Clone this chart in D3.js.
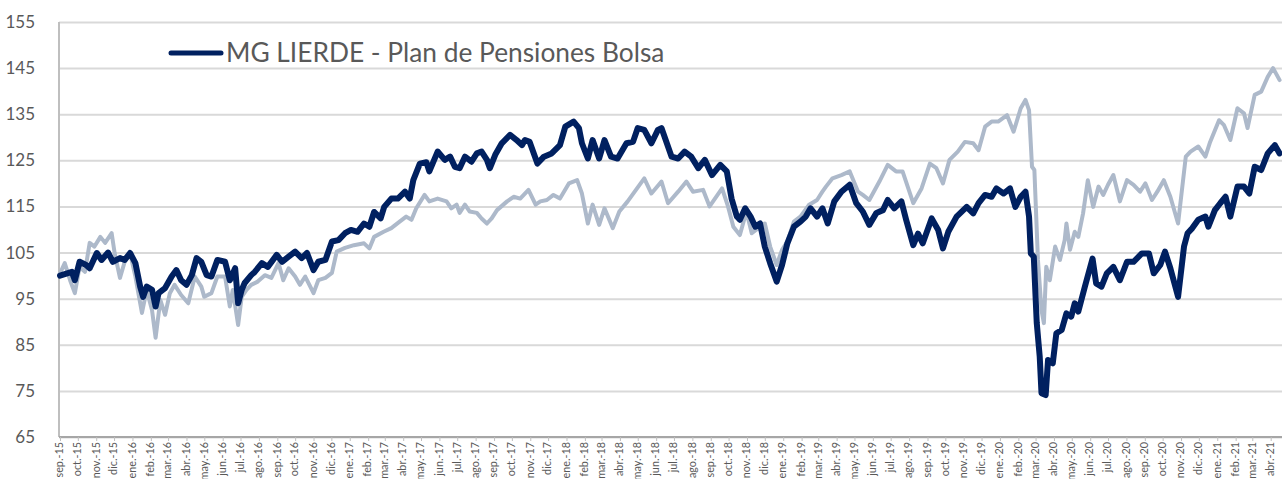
<!DOCTYPE html>
<html>
<head>
<meta charset="utf-8">
<script src="https://cdn.jsdelivr.net/npm/d3@7"></script>
<style>
    body { margin: 0; background: #fff; }
    svg { display: block; font-family: Lato, 'Open Sans', sans-serif; }
</style>
</head>
<body>
<div id="content"></div>
<script>
'use strict';

var yTicks = [65, 75, 85, 95, 105, 115, 125, 135, 145, 155]
var monthAbbr = ['ene.', 'feb.', 'mar.', 'abr.', 'may.', 'jun.', 'jul.', 'ago.', 'sep.', 'oct.', 'nov.', 'dic.']
var axisStart = '2015-09-01'
var axisEnd = '2021-04-01'
var legendLabel = 'MG LIERDE - Plan de Pensiones Bolsa'

// MG LIERDE plan (dark line)
var fundSeries = [
    ['2015-09-01', 100], ['2015-09-21', 100.8], ['2015-09-26', 99.0], ['2015-10-04', 103], ['2015-10-15', 102.3],
    ['2015-10-21', 101.6], ['2015-11-02', 104.9], ['2015-11-10', 103.4], ['2015-11-21', 105], ['2015-11-29', 103],
    ['2015-12-11', 103.8], ['2015-12-19', 103.4], ['2015-12-28', 104.9], ['2016-01-06', 102.7], ['2016-01-14', 97.6],
    ['2016-01-19', 95.4], ['2016-01-25', 97.6], ['2016-02-03', 96.9], ['2016-02-09', 93.3], ['2016-02-14', 96.2],
    ['2016-02-25', 97.3], ['2016-03-07', 99.8], ['2016-03-15', 101.2], ['2016-03-23', 99], ['2016-04-01', 98],
    ['2016-04-10', 100.1], ['2016-04-18', 103.8], ['2016-04-26', 103], ['2016-05-05', 100.1], ['2016-05-13', 99.8],
    ['2016-05-23', 103.4], ['2016-06-05', 103], ['2016-06-13', 99], ['2016-06-22', 101.6], ['2016-06-27', 94],
    ['2016-07-03', 96.9], ['2016-07-08', 98.4], ['2016-07-19', 100.1], ['2016-07-25', 100.8], ['2016-08-06', 102.7],
    ['2016-08-16', 101.9], ['2016-08-31', 104.5], ['2016-09-09', 103], ['2016-09-20', 104.1], ['2016-10-01', 105.2],
    ['2016-10-12', 103.8], ['2016-10-21', 104.9], ['2016-11-01', 101.2], ['2016-11-09', 103], ['2016-11-21', 103.4],
    ['2016-12-02', 107.4], ['2016-12-13', 107.7], ['2016-12-24', 109.2], ['2017-01-03', 109.9], ['2017-01-14', 109.5],
    ['2017-01-25', 111.3], ['2017-02-03', 110.6], ['2017-02-11', 113.8], ['2017-02-22', 112.4], ['2017-02-28', 114.9],
    ['2017-03-12', 116.7], ['2017-03-23', 116.7], ['2017-04-04', 118.2], ['2017-04-12', 116.7], ['2017-04-18', 120.7],
    ['2017-04-29', 124.3], ['2017-05-10', 124.6], ['2017-05-15', 122.6], ['2017-05-29', 126.9], ['2017-06-10', 125.1],
    ['2017-06-19', 125.8], ['2017-06-27', 123.6], ['2017-07-05', 123.3], ['2017-07-14', 125.8], ['2017-07-25', 124.7],
    ['2017-08-03', 126.5], ['2017-08-11', 126.9], ['2017-08-20', 125.1], ['2017-08-25', 123.3], ['2017-09-03', 126.2],
    ['2017-09-14', 128.7], ['2017-09-28', 130.5], ['2017-10-09', 129.4], ['2017-10-18', 128.3], ['2017-10-23', 129.4],
    ['2017-10-31', 129], ['2017-11-13', 124.3], ['2017-11-24', 125.8], ['2017-12-07', 126.5], ['2017-12-21', 128.3],
    ['2017-12-30', 132.3], ['2018-01-13', 133.4], ['2018-01-22', 132], ['2018-01-27', 128.7], ['2018-02-06', 125.4],
    ['2018-02-14', 129.4], ['2018-02-25', 125.4], ['2018-03-06', 129.4], ['2018-03-17', 125.8], ['2018-03-28', 125.4],
    ['2018-04-12', 128.7], ['2018-04-23', 129], ['2018-05-01', 132], ['2018-05-12', 131.6], ['2018-05-24', 128.7],
    ['2018-06-04', 131.6], ['2018-06-10', 132], ['2018-06-27', 125.8], ['2018-07-08', 125.4], ['2018-07-19', 126.9],
    ['2018-07-30', 125.8], ['2018-08-11', 123.3], ['2018-08-22', 125.1], ['2018-09-03', 121.8], ['2018-09-17', 124],
    ['2018-09-28', 122.6], ['2018-10-06', 116.7], ['2018-10-15', 112.8], ['2018-10-20', 112.1], ['2018-10-29', 114.6],
    ['2018-11-07', 112.8], ['2018-11-15', 110.6], ['2018-11-23', 111.3], ['2018-12-01', 106.3], ['2018-12-10', 102.7],
    ['2018-12-21', 98.7], ['2018-12-30', 102.3], ['2019-01-08', 107], ['2019-01-19', 110.6], ['2019-01-30', 111.7],
    ['2019-02-08', 112.8], ['2019-02-16', 114.6], ['2019-02-27', 112.8], ['2019-03-08', 114.6], ['2019-03-17', 111.3],
    ['2019-03-28', 116.1], ['2019-04-09', 118.2], ['2019-04-23', 119.7], ['2019-05-04', 115.7], ['2019-05-15', 113.9],
    ['2019-05-26', 111], ['2019-06-07', 113.6], ['2019-06-18', 114.2], ['2019-06-26', 116.4], ['2019-07-07', 114.6],
    ['2019-07-19', 116.1], ['2019-07-27', 112.1], ['2019-08-08', 106.6], ['2019-08-16', 109.1], ['2019-08-24', 107],
    ['2019-09-08', 112.4], ['2019-09-19', 109.9], ['2019-09-27', 105.9], ['2019-10-06', 109.5], ['2019-10-20', 112.8],
    ['2019-11-06', 114.9], ['2019-11-17', 113.5], ['2019-11-26', 115.7], ['2019-12-07', 117.5], ['2019-12-18', 117.1],
    ['2019-12-26', 118.9], ['2020-01-07', 117.8], ['2020-01-18', 118.9], ['2020-01-27', 114.9], ['2020-02-05', 117.1],
    ['2020-02-13', 118.2], ['2020-02-19', 112.8], ['2020-02-22', 104.8], ['2020-02-27', 104.1], ['2020-03-03', 89.7],
    ['2020-03-08', 82.4], ['2020-03-11', 74.5], ['2020-03-18', 74.1], ['2020-03-22', 81.7], ['2020-03-30', 81],
    ['2020-04-05', 87.5], ['2020-04-14', 88.2], ['2020-04-22', 91.8], ['2020-04-30', 91.1], ['2020-05-06', 94],
    ['2020-05-12', 92.2], ['2020-05-23', 97.6], ['2020-06-05', 103.7], ['2020-06-11', 98.3], ['2020-06-20', 97.6],
    ['2020-06-29', 100.5], ['2020-07-10', 101.9], ['2020-07-21', 99], ['2020-08-02', 103], ['2020-08-13', 103],
    ['2020-08-27', 104.8], ['2020-09-08', 104.8], ['2020-09-16', 100.5], ['2020-09-27', 102.3], ['2020-10-05', 105.2],
    ['2020-10-14', 101.6], ['2020-10-27', 95.4], ['2020-11-06', 106.3], ['2020-11-12', 109.2], ['2020-11-20', 110.3],
    ['2020-11-30', 112.1], ['2020-12-12', 112.8], ['2020-12-17', 110.6], ['2020-12-28', 114.2], ['2021-01-06', 115.7],
    ['2021-01-15', 117.1], ['2021-01-23', 112.8], ['2021-02-04', 119.3], ['2021-02-15', 119.3], ['2021-02-24', 117.8],
    ['2021-03-05', 123.6], ['2021-03-16', 122.9], ['2021-03-27', 126.5], ['2021-04-08', 128.3], ['2021-04-16', 126.5]
]

// benchmark (light line, no legend entry)
var benchSeries = [
    ['2015-09-01', 100.5], ['2015-09-09', 102.7], ['2015-09-18', 99], ['2015-09-26', 96.2], ['2015-10-04', 101.9],
    ['2015-10-13', 100.8], ['2015-10-21', 107.1], ['2015-10-29', 106.3], ['2015-11-08', 108.4], ['2015-11-16', 107.1],
    ['2015-11-27', 109.2], ['2015-12-02', 104.9], ['2015-12-11', 99.5], ['2015-12-19', 103], ['2015-12-28', 104.9],
    ['2016-01-06', 99.8], ['2016-01-11', 96.2], ['2016-01-17', 91.9], ['2016-01-25', 96.9], ['2016-02-03', 92.5],
    ['2016-02-09', 86.5], ['2016-02-17', 94.7], ['2016-02-25', 91.5], ['2016-03-04', 96.2], ['2016-03-12', 98],
    ['2016-03-23', 95.8], ['2016-04-04', 94], ['2016-04-15', 99.8], ['2016-04-26', 97.6], ['2016-05-01', 95.4],
    ['2016-05-13', 96.2], ['2016-05-23', 99.8], ['2016-06-05', 99.8], ['2016-06-13', 93.3], ['2016-06-18', 96.9],
    ['2016-06-27', 89.3], ['2016-07-03', 95.4], ['2016-07-11', 96.9], ['2016-07-19', 98], ['2016-07-30', 98.7],
    ['2016-08-11', 100.1], ['2016-08-22', 99.5], ['2016-09-03', 102.7], ['2016-09-11', 99], ['2016-09-20', 101.6],
    ['2016-10-01', 99.8], ['2016-10-09', 98], ['2016-10-18', 99.8], ['2016-11-01', 96.2], ['2016-11-09', 99],
    ['2016-11-21', 99.5], ['2016-12-02', 100.6], ['2016-12-10', 105.2], ['2016-12-24', 106], ['2017-01-08', 106.6],
    ['2017-01-25', 107], ['2017-02-03', 105.9], ['2017-02-11', 108.4], ['2017-02-27', 109.5], ['2017-03-12', 110.3],
    ['2017-03-26', 111.7], ['2017-04-06', 112.8], ['2017-04-15', 112.1], ['2017-04-23', 114.6], ['2017-05-07', 117.5],
    ['2017-05-15', 116.1], ['2017-05-29', 116.7], ['2017-06-13', 116.1], ['2017-06-21', 114.6], ['2017-06-30', 115.4],
    ['2017-07-05', 113.6], ['2017-07-14', 115.4], ['2017-07-22', 113.9], ['2017-08-03', 113.6], ['2017-08-11', 112.4],
    ['2017-08-20', 111.3], ['2017-08-28', 112.4], ['2017-09-06', 114.2], ['2017-09-23', 116.1], ['2017-10-04', 117.1],
    ['2017-10-15', 116.7], ['2017-10-29', 118.6], ['2017-11-10', 115.4], ['2017-11-18', 116.1], ['2017-11-29', 116.4],
    ['2017-12-10', 117.5], ['2017-12-21', 116.7], ['2018-01-05', 120], ['2018-01-19', 120.7], ['2018-01-27', 117.8],
    ['2018-02-06', 111.3], ['2018-02-14', 115.4], ['2018-02-25', 111], ['2018-03-06', 114.6], ['2018-03-20', 110.3],
    ['2018-03-31', 113.9], ['2018-04-14', 116.1], ['2018-04-28', 118.6], ['2018-05-12', 121.1], ['2018-05-24', 117.8],
    ['2018-06-10', 120.4], ['2018-06-21', 115.7], ['2018-07-08', 118.2], ['2018-07-22', 120.4], ['2018-08-02', 118.2],
    ['2018-08-19', 118.6], ['2018-08-30', 115], ['2018-09-20', 118.9], ['2018-09-30', 115], ['2018-10-09', 110.6],
    ['2018-10-20', 108.8], ['2018-10-31', 113.9], ['2018-11-09', 109.2], ['2018-11-20', 110.3], ['2018-12-01', 111.3],
    ['2018-12-10', 106.3], ['2018-12-21', 102.3], ['2018-12-30', 105.6], ['2019-01-08', 107.4], ['2019-01-19', 111.7],
    ['2019-01-30', 112.8], ['2019-02-13', 115.3], ['2019-02-27', 116.4], ['2019-03-08', 118.2], ['2019-03-14', 119.3],
    ['2019-03-25', 121.1], ['2019-04-09', 121.8], ['2019-04-23', 122.6], ['2019-05-07', 118.2], ['2019-05-15', 117.5],
    ['2019-05-26', 116.4], ['2019-06-12', 120.4], ['2019-06-26', 124], ['2019-07-10', 122.6], ['2019-07-21', 122.6],
    ['2019-08-08', 115.7], ['2019-08-22', 118.9], ['2019-09-05', 124.3], ['2019-09-16', 123.3], ['2019-09-27', 120],
    ['2019-10-08', 125.1], ['2019-10-22', 126.9], ['2019-11-03', 129], ['2019-11-17', 128.7], ['2019-11-26', 127.2],
    ['2019-12-07', 132.3], ['2019-12-18', 133.4], ['2019-12-29', 133.4], ['2020-01-13', 134.8], ['2020-01-24', 131.2],
    ['2020-02-05', 136.3], ['2020-02-13', 138.1], ['2020-02-19', 135.9], ['2020-02-24', 123.6], ['2020-02-28', 122.9],
    ['2020-03-05', 103.4], ['2020-03-11', 92.5], ['2020-03-15', 89.7], ['2020-03-19', 101.9], ['2020-03-25', 99],
    ['2020-04-03', 106.3], ['2020-04-11', 103.4], ['2020-04-19', 107.7], ['2020-04-22', 111.3], ['2020-04-28', 105.6],
    ['2020-05-06', 109.5], ['2020-05-12', 108.4], ['2020-05-20', 113.5], ['2020-05-28', 120.7], ['2020-06-06', 114.9],
    ['2020-06-15', 119.3], ['2020-06-23', 117.5], ['2020-07-01', 119.7], ['2020-07-10', 121.8], ['2020-07-21', 116.1],
    ['2020-08-02', 120.7], ['2020-08-13', 119.7], ['2020-08-24', 118.2], ['2020-09-02', 120], ['2020-09-13', 116.4],
    ['2020-09-22', 118.2], ['2020-10-03', 120.7], ['2020-10-14', 117.1], ['2020-10-27', 111.3], ['2020-11-09', 125.8],
    ['2020-11-17', 126.9], ['2020-11-30', 128], ['2020-12-12', 125.8], ['2020-12-20', 129], ['2021-01-04', 133.7],
    ['2021-01-12', 132.7], ['2021-01-23', 129.4], ['2021-02-04', 136.3], ['2021-02-15', 135.2], ['2021-02-21', 132],
    ['2021-03-05', 139.2], ['2021-03-16', 139.9], ['2021-03-27', 143.1], ['2021-04-05', 145], ['2021-04-16', 142.4]
]

var ChartView = function() {
    var self = this
    self.width = 1282
    self.height = 479
    self.margin = { left: 59, right: 0, top: 22, bottom: 42 }
    self.svg = d3.select('#content').append('svg')
        .attr('width', self.width).attr('height', self.height)
    self.parse = d3.timeParse('%Y-%m-%d')
    self.init()
}

ChartView.prototype.init = function() {
    var self = this
    var plotBottom = self.height - self.margin.bottom
    var plotRight = self.width - self.margin.right

    var x = d3.scaleTime()
        .domain([self.parse(axisStart), self.parse(axisEnd)])
        .range([self.margin.left + 1, 1270.7])
    var y = d3.scaleLinear()
        .domain([d3.min(yTicks), d3.max(yTicks)])
        .range([plotBottom, self.margin.top])

    // horizontal grid + y labels
    var yAxis = self.svg.append('g')
        .attr('transform', 'translate(' + self.margin.left + ',0)')
        .call(d3.axisLeft(y).tickValues(yTicks).tickSize(-(plotRight - self.margin.left)).tickPadding(24))
    yAxis.select('.domain').remove()
    yAxis.selectAll('.tick line').attr('stroke', '#d9d9d9').attr('stroke-width', 2)
    yAxis.selectAll('.tick text')
        .attr('fill', '#595959').style('font-size', '17px').style('font-family', 'Lato')

    self.svg.append('line')
        .attr('x1', self.margin.left).attr('x2', self.margin.left)
        .attr('y1', self.margin.top).attr('y2', plotBottom)
        .attr('stroke', '#bfbfbf').attr('stroke-width', 2)

    // month axis
    var fmt = function(d) {
        return monthAbbr[d.getMonth()] + '-' + d3.timeFormat('%y')(d)
    }
    var xAxis = self.svg.append('g')
        .attr('transform', 'translate(0,' + plotBottom + ')')
        .call(d3.axisBottom(x).ticks(d3.timeMonth.every(1)).tickFormat(fmt).tickSize(4).tickSizeOuter(0))
    xAxis.select('.domain').attr('stroke', '#a6a6a6').attr('stroke-width', 2)
        .attr('d', 'M' + self.margin.left + ',0H' + plotRight)
    xAxis.selectAll('.tick line').attr('stroke', '#bfbfbf')
    xAxis.selectAll('.tick text')
        .attr('fill', '#595959').style('font-size', '10.8px').style('font-family', 'Lato')
        .attr('text-anchor', 'end')
        .attr('transform', 'rotate(-90)')
        .attr('x', -5).attr('y', -1).attr('dy', '0.35em')

    var line = d3.line()
        .x(function(d) { return x(self.parse(d[0])) })
        .y(function(d) { return y(d[1]) })

    self.svg.append('path').datum(benchSeries)
        .attr('d', line).attr('fill', 'none')
        .attr('stroke', '#adb9ca').attr('stroke-width', 4)
        .attr('stroke-linejoin', 'round').attr('stroke-linecap', 'round')

    self.svg.append('path').datum(fundSeries)
        .attr('d', line).attr('fill', 'none')
        .attr('stroke', '#002060').attr('stroke-width', 6)
        .attr('stroke-linejoin', 'round').attr('stroke-linecap', 'round')

    // legend
    var lg = self.svg.append('g')
    lg.append('line')
        .attr('x1', 171).attr('x2', 221).attr('y1', 53).attr('y2', 53)
        .attr('stroke', '#002060').attr('stroke-width', 5).attr('stroke-linecap', 'round')
    lg.append('text')
        .attr('x', 226).attr('y', 62)
        .attr('fill', '#595959').style('font-size', '26.3px').style('font-family', 'Lato')
        .text(legendLabel)
}

var chart = new ChartView()
</script>
</body>
</html>
